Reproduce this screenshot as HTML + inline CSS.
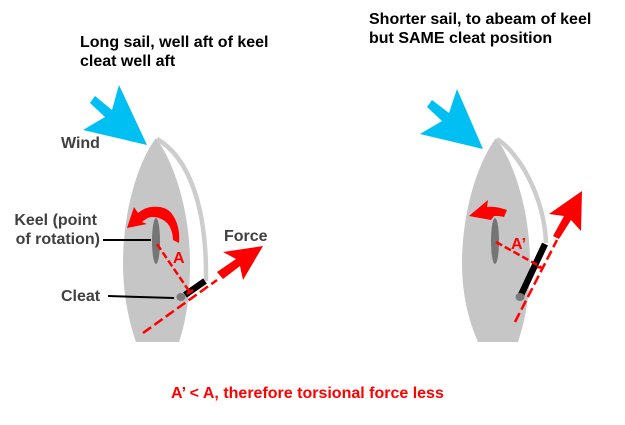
<!DOCTYPE html>
<html><head><meta charset="utf-8"><style>
html,body{margin:0;padding:0;background:#fff}
svg{display:block}
text{font-family:"Liberation Sans",Arial,sans-serif;font-weight:bold;font-size:16px}
</style></head><body>
<svg width="625" height="425" viewBox="0 0 625 425" xmlns="http://www.w3.org/2000/svg">
<!-- left boat -->
<path d="M156 138 C136 165 123 215 123 263 C123 295 129 322 136 342 L179 342 C187 318 190 292 190 263 C190 215 176 165 156 138Z" fill="#c6c6c6"/>
<path d="M157 139 C188 157 207 205 206 281" fill="none" stroke="#cdcdcd" stroke-width="4.5"/>
<ellipse cx="156" cy="241" rx="4" ry="23" fill="#757575"/>
<path d="M185 295 L205 281" stroke="#000" stroke-width="6.500"/>
<ellipse cx="181" cy="297" rx="4.500" ry="4" fill="#7a7a7a"/>
<path d="M103 240 H151" stroke="#000" stroke-width="2"/>
<path d="M108 296 L174 298" stroke="#000" stroke-width="2"/>
<path d="M157 244 L189 291" stroke="#f00" stroke-width="2.500" stroke-dasharray="7 3" fill="none"/>
<path d="M143 333 L217 280" stroke="#f00" stroke-width="2.500" stroke-dasharray="10 4" fill="none"/>
<path d="M187 294 L193 290" stroke="#f00" stroke-width="2.500"/>
<path d="M263 246 L223 252 L236 259 L217 272 L223 279 L240 266 L243 280Z" fill="#f00"/>
<path d="M127 228 L134 207 L138 213 C143 209 148 207 152 207 C160 206 168 208 172 214 C178 222 180 233 179 243 L173 240 C173 233 170 225 166 222 C160 217 152 216 148 218 C146 219 143 221 142 222 L147 224Z" fill="#f00"/>
<path d="M147 145 L119 85 L112 110 L95 96 L90 103 L105 117 L83 130Z" fill="#00c0f3"/>
<!-- right boat -->
<path d="M496 138 C476 165 462 215 462 263 C462 295 469 322 478 342 L518 342 C526 318 530 292 530 263 C530 215 516 165 496 138Z" fill="#c6c6c6"/>
<path d="M497 139 C518 152 544 195 546 243" fill="none" stroke="#cdcdcd" stroke-width="4.5"/>
<ellipse cx="495" cy="241" rx="4" ry="23" fill="#757575"/>
<path d="M545 244 L521 295" stroke="#000" stroke-width="6.500"/>
<ellipse cx="520" cy="297" rx="4.500" ry="4" fill="#7a7a7a"/>
<path d="M496 242 L541 267" stroke="#f00" stroke-width="2.500" stroke-dasharray="7 3" fill="none"/>
<path d="M515 322 L557 240" stroke="#f00" stroke-width="2.500" stroke-dasharray="10 4" fill="none"/>
<path d="M537 267 L543 268" stroke="#f00" stroke-width="2.500"/>
<path d="M582 191 L549 214 L564 216 L553 236 L559 239 L571 220 L581 231Z" fill="#f00"/>
<path d="M469 216 L488 200 L487 207 C494 206 501 208 507 210 L504 217 C500 216 497 216 494 216 L491 220Z" fill="#f00"/>
<path d="M483 149 L457 89 L449 113 L432 100 L427 107 L442 121 L420 134Z" fill="#00c0f3"/>
<!-- text -->
<text x="80" y="47" fill="#000">Long sail, well aft of keel</text>
<text x="80" y="66" fill="#000">cleat well aft</text>
<text x="369" y="24" fill="#000">Shorter sail, to abeam of keel</text>
<text x="369" y="43" fill="#000">but SAME cleat position</text>
<text x="61" y="148" fill="#404040">Wind</text>
<text x="97" y="225" fill="#404040" text-anchor="end">Keel (point</text>
<text x="100" y="244" fill="#404040" text-anchor="end">of rotation)</text>
<text x="61" y="301" fill="#404040">Cleat</text>
<text x="224" y="241" fill="#404040">Force</text>
<text x="173" y="263" fill="#f00">A</text>
<text x="511" y="249" fill="#f00">A’</text>
<text x="171" y="398" fill="#f00">A’ &lt; A, therefore torsional force less</text>
</svg>
</body></html>
